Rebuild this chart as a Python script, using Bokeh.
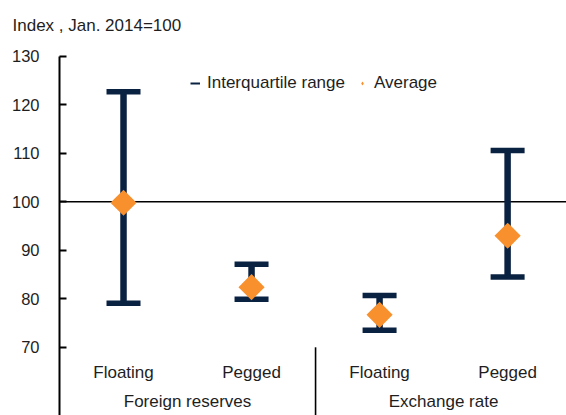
import math
from bokeh.plotting import figure
from bokeh.models import (ColumnDataSource, Range1d, FixedTicker, Span, Title,
                          Legend, LegendItem)
from bokeh.core.properties import value
from bokeh.embed import file_html
from bokeh.resources import INLINE

# ---------------- data ----------------
groups = ["Foreign reserves", "Foreign reserves", "Exchange rate", "Exchange rate"]
regimes = ["Floating", "Pegged", "Floating", "Pegged"]
iqr_low = [79.1, 79.9, 73.5, 84.5]
iqr_high = [122.7, 87.1, 80.7, 110.6]
average = [99.8, 82.4, 76.7, 93.0]
group_names = ["Foreign reserves", "Exchange rate"]
y_ticks = [70, 80, 90, 100, 110, 120, 130]
reference_level = 100
title_text = "Index , Jan. 2014=100"

# ---------------- style ----------------
FONT = "Liberation Sans"
NAVY = "#0A2242"
ORANGE = "#F7902D"
TEXT = "#1E1E1E"
Y_START, Y_END = 55.94, 133.26

# category slot positions derived from the category order
xs = [i + 0.5 for i in range(len(regimes))]
group_x = [sum(x for x, g in zip(xs, groups) if g == name) /
           sum(1 for g in groups if g == name) for name in group_names]
boundary_x = [(xs[1] + xs[2]) / 2]

src = ColumnDataSource(dict(x=xs, lo=iqr_low, hi=iqr_high, avg=average,
                            regime=regimes))

p = figure(width=566, height=415, output_backend="svg", toolbar_location=None,
           x_range=Range1d(0, 3.96), y_range=Range1d(Y_START, Y_END),
           x_axis_location=None,
           min_border_left=59, min_border_right=0, min_border_top=40,
           min_border_bottom=0)
p.outline_line_color = None
p.xgrid.visible = False
p.ygrid.visible = False

ax = p.yaxis[0]
ax.ticker = FixedTicker(ticks=y_ticks)
ax.bounds = (Y_START, max(y_ticks))
ax.major_tick_in = 7
ax.major_tick_out = 0
ax.minor_tick_in = 0
ax.minor_tick_out = 0
ax.axis_line_width = 2
ax.axis_line_color = "black"
ax.major_tick_line_width = 2
ax.major_tick_line_color = "black"
ax.major_label_standoff = 20
ax.major_label_text_font = FONT
ax.major_label_text_font_size = "16.5px"
ax.major_label_text_color = TEXT

# title
p.add_layout(Title(text=title_text, align="left", offset=-47, standoff=12,
                   text_font=FONT, text_font_size="17px",
                   text_font_style="normal", text_color=TEXT), "above")

# reference line at 100
p.add_layout(Span(location=reference_level, dimension="width",
                  line_color="black", line_width=1.6, level="underlay"))

# interquartile ranges
p.segment(x0="x", y0="lo", x1="x", y1="hi", source=src,
          line_color=NAVY, line_width=6.5)
p.scatter(x="x", y="lo", source=src, marker="dash", size=34,
          line_color=NAVY, line_width=5.5)
p.scatter(x="x", y="hi", source=src, marker="dash", size=34,
          line_color=NAVY, line_width=5.5)

# averages
p.scatter(x="x", y="avg", source=src, marker="square", angle=math.pi / 4,
          size=18.5, fill_color=ORANGE, line_color=None)

# category labels
p.text(x=xs, y=[64.8] * len(xs), text=regimes, text_align="center",
       text_baseline="middle", text_font=value(FONT), text_font_size="17px",
       text_color=TEXT)
p.text(x=group_x, y=[58.85] * len(group_x), text=group_names,
       text_align="center", text_baseline="middle", text_font=value(FONT),
       text_font_size="17px", text_color=TEXT)
p.segment(x0=boundary_x, y0=[min(y_ticks)], x1=boundary_x, y1=[Y_START],
          line_color="black", line_width=1.6)

# legend (placeholder renderers carrying only the legend styling)
nan = float("nan")
empty = ColumnDataSource(dict(x=[nan], y=[nan]))
leg_line = p.line(x="x", y="y", source=empty, line_color=NAVY, line_width=2)
leg_dia = p.scatter(x="x", y="y", source=empty, marker="diamond", size=8.5,
                    fill_color=ORANGE, line_color=None)
legend = Legend(items=[LegendItem(label="Interquartile range", renderers=[leg_line]),
                       LegendItem(label="Average", renderers=[leg_dia])],
                orientation="horizontal", location=(131, 322),
                background_fill_alpha=0, border_line_color=None,
                label_text_font=FONT, label_text_font_size="17px",
                label_text_color=TEXT, glyph_width=10, glyph_height=20,
                label_standoff=7, spacing=12, padding=0, margin=0)
p.add_layout(legend)

open("out.html", "w").write(file_html(p, INLINE))
